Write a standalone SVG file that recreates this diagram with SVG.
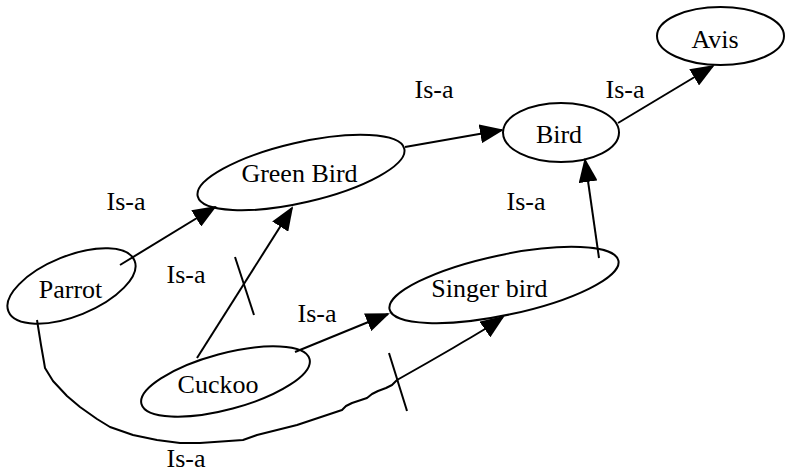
<svg xmlns="http://www.w3.org/2000/svg" width="785" height="474" viewBox="0 0 785 474">
<style>
.n{fill:none;stroke:#000;stroke-width:2}
.t{font-family:"Liberation Serif","Times New Roman",serif;font-size:26px;fill:#000;text-anchor:middle}
.c{fill:none;stroke:#000;stroke-width:2;stroke-linejoin:round}
.e{marker-end:url(#ah)}
</style>
<defs>
<marker id="ah" markerUnits="userSpaceOnUse" markerWidth="24" markerHeight="19" refX="22" refY="9.5" orient="auto" viewBox="0 0 24 19">
<path d="M0,0 L24,9.5 L0,19 Z" fill="#000"/>
</marker>
</defs>
<rect width="785" height="474" fill="#fff"/>
<g id="connectors">
<path class="c e" d="M120,265 L215,207"/>
<path class="c e" d="M197,358 L292,208"/>
<path class="c e" d="M295,352 L388,314"/>
<path class="c e" d="M405,147 L502,130"/>
<path class="c e" d="M618,123 L713,66"/>
<path class="c e" d="M599,258 L585,160"/>
<path class="c e" d="M37,320 L41,345 L44,362 L45,368 L53,381 L67,396 L80,407 L97,419 L110,427 L133,435 L157,440 L180,443 L200,443 L243,440 L257,435 L297,425 L342,410 L346,406 L352,403 L361,400 L367,398 L372,394 L378,391 L386,388 L392,385 L397,380 L427,363 L453,348 L463,342 L470,338 L480,332 L490,326 L503,317"/>
<path class="c" d="M235,257 L254,315"/>
<path class="c" d="M389,353 L407,411"/>
<text class="t" x="434" y="98">Is-a</text>
<text class="t" x="625" y="98">Is-a</text>
<text class="t" x="126" y="210">Is-a</text>
<text class="t" x="526" y="210">Is-a</text>
<text class="t" x="186" y="283">Is-a</text>
<text class="t" x="317" y="322">Is-a</text>
<text class="t" x="186" y="467">Is-a</text>
</g>
<g id="avis">
<ellipse class="n" cx="720.5" cy="36" rx="63.5" ry="29"/>
<text class="t" x="715" y="48">Avis</text>
</g>
<g id="bird">
<ellipse class="n" cx="561" cy="132.5" rx="58" ry="29.5"/>
<text class="t" x="559" y="143">Bird</text>
</g>
<g id="green-bird">
<ellipse class="n" cx="301" cy="172.5" rx="106" ry="30" transform="rotate(-13 301 172.5)"/>
<text class="t" x="299.5" y="182">Green Bird</text>
</g>
<g id="parrot">
<ellipse class="n" cx="71.5" cy="286" rx="68" ry="30" transform="rotate(-22 71.5 286)"/>
<text class="t" x="70.5" y="298">Parrot</text>
</g>
<g id="singer-bird">
<ellipse class="n" cx="504" cy="285" rx="117" ry="30" transform="rotate(-12 504 285)"/>
<text class="t" x="489.5" y="297">Singer bird</text>
</g>
<g id="cuckoo">
<ellipse class="n" cx="225.5" cy="381.5" rx="87" ry="28" transform="rotate(-15 225.5 381.5)"/>
<text class="t" x="218" y="393">Cuckoo</text>
</g>
</svg>
